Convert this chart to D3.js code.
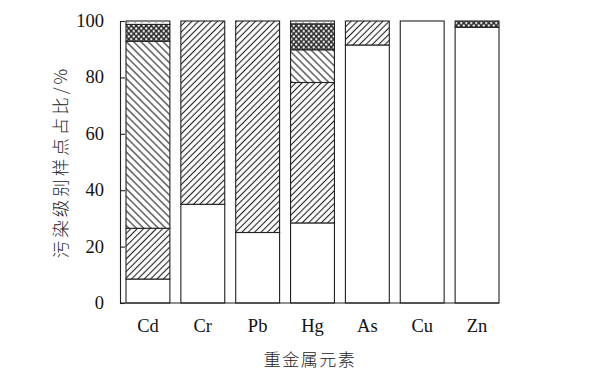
<!DOCTYPE html>
<html>
<head>
<meta charset="utf-8">
<script src="https://cdn.jsdelivr.net/npm/d3@7"></script>
<style>
  body { margin: 0; background: #fff; }
  svg { display: block; }
</style>
</head>
<body>
<div id="chart"></div>
<script>
// chart size
const width = 607
const height = 372

// data: share of sample points per pollution level (%)
const categories = ["Cd", "Cr", "Pb", "Hg", "As", "Cu", "Zn"]
const level1 = [8.5, 35, 25, 28.4, 91.5, 100, 97.8]
const level2 = [18, 65, 75, 49.8, 8.5, 0, 0]
const level3 = [66.3, 0, 0, 11.6, 0, 0, 0]
const level4 = [6, 0, 0, 9.2, 0, 0, 2.2]
const level5 = [1.2, 0, 0, 1.0, 0, 0, 0]
const yTicks = [0, 20, 40, 60, 80, 100]

const levels = ["l1", "l2", "l3", "l4", "l5"]
const rows = categories.map((c, i) => ({
  cat: c, l1: level1[i], l2: level2[i], l3: level3[i], l4: level4[i], l5: level5[i]
}))

const svg = d3.select("#chart").append("svg")
  .attr("width", width)
  .attr("height", height)

// fill patterns
const defs = svg.append("defs")

function hatch(id, size, angle) {
  const p = defs.append("pattern")
    .attr("id", id)
    .attr("patternUnits", "userSpaceOnUse")
    .attr("width", size).attr("height", size)
    .attr("patternTransform", "rotate(" + angle + ")")
  p.append("rect").attr("width", size).attr("height", size).attr("fill", "#fff")
  p.append("line")
    .attr("x1", size / 2).attr("y1", 0).attr("x2", size / 2).attr("y2", size)
    .attr("stroke", "#222").attr("stroke-width", 1.1)
}
hatch("fwd", 4.5, 45)
hatch("back", 5.2, -45)

const cross = defs.append("pattern")
  .attr("id", "cross")
  .attr("patternUnits", "userSpaceOnUse")
  .attr("width", 5).attr("height", 5.4)
cross.append("rect").attr("width", 5).attr("height", 5.4).attr("fill", "#333")
cross.append("circle").attr("cx", 1.25).attr("cy", 1.35).attr("r", 1.15).attr("fill", "#fff")
cross.append("circle").attr("cx", 3.75).attr("cy", 4.05).attr("r", 1.15).attr("fill", "#fff")

const specks = defs.append("pattern")
  .attr("id", "specks")
  .attr("patternUnits", "userSpaceOnUse")
  .attr("width", 7).attr("height", 3)
specks.append("rect").attr("width", 7).attr("height", 3).attr("fill", "#fff")
specks.append("circle").attr("cx", 2).attr("cy", 1.5).attr("r", 0.6).attr("fill", "#555")

const fills = { l1: "#fff", l2: "url(#fwd)", l3: "url(#back)", l4: "url(#cross)", l5: "url(#specks)" }

// scales
const x = d3.scaleBand()
  .domain(categories)
  .range([126, 499])
  .paddingInner(0.2)
  .paddingOuter(0)

const y = d3.scaleLinear()
  .domain([0, 100])
  .range([303, 21])

const stack = d3.stack().keys(levels)(rows)

// bars
svg.append("g")
  .selectAll("g")
  .data(stack)
  .enter()
  .append("g")
  .attr("fill", d => fills[d.key])
  .selectAll("rect")
  .data(d => d.filter(s => s[1] - s[0] > 0))
  .enter()
  .append("rect")
  .attr("x", d => x(d.data.cat))
  .attr("y", d => y(d[1]))
  .attr("width", x.bandwidth())
  .attr("height", d => y(d[0]) - y(d[1]))
  .attr("stroke", "#222")
  .attr("stroke-width", 1.1)

// y axis (ticks inward)
const yAxis = svg.append("g")
  .attr("transform", "translate(120,0)")
  .call(d3.axisRight(y).tickValues(yTicks).tickSize(5).tickFormat(""))
yAxis.select(".domain").attr("stroke", "#222").attr("stroke-width", 1.1)
yAxis.selectAll("line").attr("stroke", "#222").attr("stroke-width", 1.1)

svg.append("g")
  .selectAll("text")
  .data(yTicks)
  .enter()
  .append("text")
  .attr("x", 104)
  .attr("y", d => y(d) + 6)
  .attr("text-anchor", "end")
  .attr("font-family", "Liberation Serif, serif")
  .attr("font-size", 18.5)
  .attr("fill", "#111")
  .text(d => d)

// x axis line
svg.append("line")
  .attr("x1", 120).attr("x2", x("Zn") + x.bandwidth())
  .attr("y1", y(0)).attr("y2", y(0))
  .attr("stroke", "#222").attr("stroke-width", 1.1)

svg.append("g")
  .selectAll("text")
  .data(categories)
  .enter()
  .append("text")
  .attr("x", d => x(d) + x.bandwidth() / 2)
  .attr("y", 332)
  .attr("text-anchor", "middle")
  .attr("font-family", "Liberation Serif, serif")
  .attr("font-size", 18.5)
  .attr("fill", "#111")
  .text(d => d)

// axis titles
svg.append("text")
  .attr("x", 310).attr("y", 366)
  .attr("text-anchor", "middle")
  .attr("font-family", "Noto Sans CJK SC, sans-serif")
  .attr("font-weight", 300)
  .attr("font-size", 17)
  .attr("letter-spacing", 1.5)
  .attr("fill", "#222")
  .text("重金属元素")

svg.append("text")
  .attr("transform", "translate(67,162) rotate(-90)")
  .attr("text-anchor", "middle")
  .attr("font-family", "Noto Sans CJK SC, sans-serif")
  .attr("font-weight", 300)
  .attr("font-size", 17.5)
  .attr("letter-spacing", 3)
  .attr("fill", "#222")
  .text("污染级别样点占比/%")
</script>
</body>
</html>
